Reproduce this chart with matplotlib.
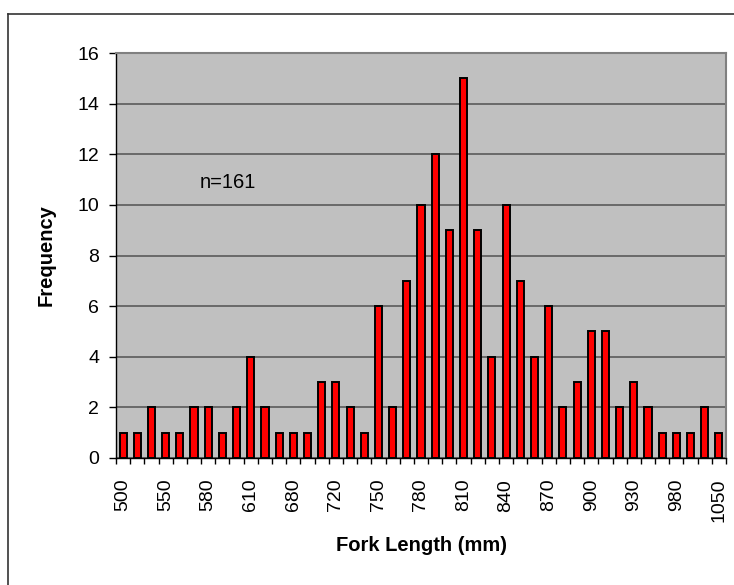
import matplotlib.pyplot as plt
from matplotlib.lines import Line2D

# fork length classes (mm); only every third one carries a label
lengths = [500, 520, 530, 550, 560, 570, 580, 590, 600, 610,
           630, 650, 680, 700, 710, 720, 730, 740, 750, 760,
           770, 780, 790, 800, 810, 820, 830, 840, 850, 860,
           870, 880, 890, 900, 910, 920, 930, 940, 960, 980,
           1000, 1020, 1050]
freq = [1, 1, 2, 1, 1, 2, 2, 1, 2, 4,
        2, 1, 1, 1, 3, 3, 2, 1, 6, 2,
        7, 10, 12, 9, 15, 9, 4, 10, 7, 4,
        6, 2, 3, 5, 5, 2, 3, 2, 1, 1,
        1, 2, 1]
n_label = "n=161"

plt.rcParams['font.family'] = ['Liberation Sans', 'DejaVu Sans']

fig = plt.figure(figsize=(7.34, 5.85), dpi=100)
ax = fig.add_axes([116 / 734, 1 - 458 / 585, 610 / 734, 405 / 585])

x = list(range(len(lengths)))
ax.bar(x, freq, width=0.5, color='#ff0000', edgecolor='black', linewidth=1.4, zorder=3)

ax.set_facecolor('#c0c0c0')
ax.set_xlim(-0.5, len(lengths) - 0.5)
ax.set_ylim(0, 16)
ax.set_yticks(range(0, 17, 2))
ax.yaxis.grid(True, color='#5a5a5a', linewidth=1.2, zorder=1)

ax.set_xticks(x[::3])
ax.set_xticklabels([str(v) for v in lengths[::3]], rotation=90, fontsize=14)
ax.set_xticks([i - 0.5 for i in range(len(lengths) + 1)], minor=True)
ax.tick_params(axis='x', which='major', length=0, pad=15)
ax.tick_params(axis='x', which='minor', length=4, width=1, direction='out', color='black')
ax.tick_params(axis='y', length=5, width=1, direction='out', labelsize=14, pad=7)

for side in ['top', 'right']:
    ax.spines[side].set_color('#808080')
    ax.spines[side].set_linewidth(1.5)
for side in ['left', 'bottom']:
    ax.spines[side].set_color('black')
    ax.spines[side].set_linewidth(1)

ax.set_xlabel('Fork Length (mm)', fontsize=14.5, fontweight='bold', labelpad=10)
ax.set_ylabel('Frequency', fontsize=14.5, fontweight='bold', labelpad=16)

ax.text(0.138, 0.681, n_label, transform=ax.transAxes, fontsize=14.5, va='center', ha='left')

# outer chart frame (only top and left edges visible)
fig.add_artist(Line2D([8 / 734, 8 / 734], [0, 1 - 14 / 585], transform=fig.transFigure, color='#333333', linewidth=1.2))
fig.add_artist(Line2D([8 / 734, 1], [1 - 14 / 585, 1 - 14 / 585], transform=fig.transFigure, color='#333333', linewidth=1.2))

fig.savefig('out.png', dpi=100)
